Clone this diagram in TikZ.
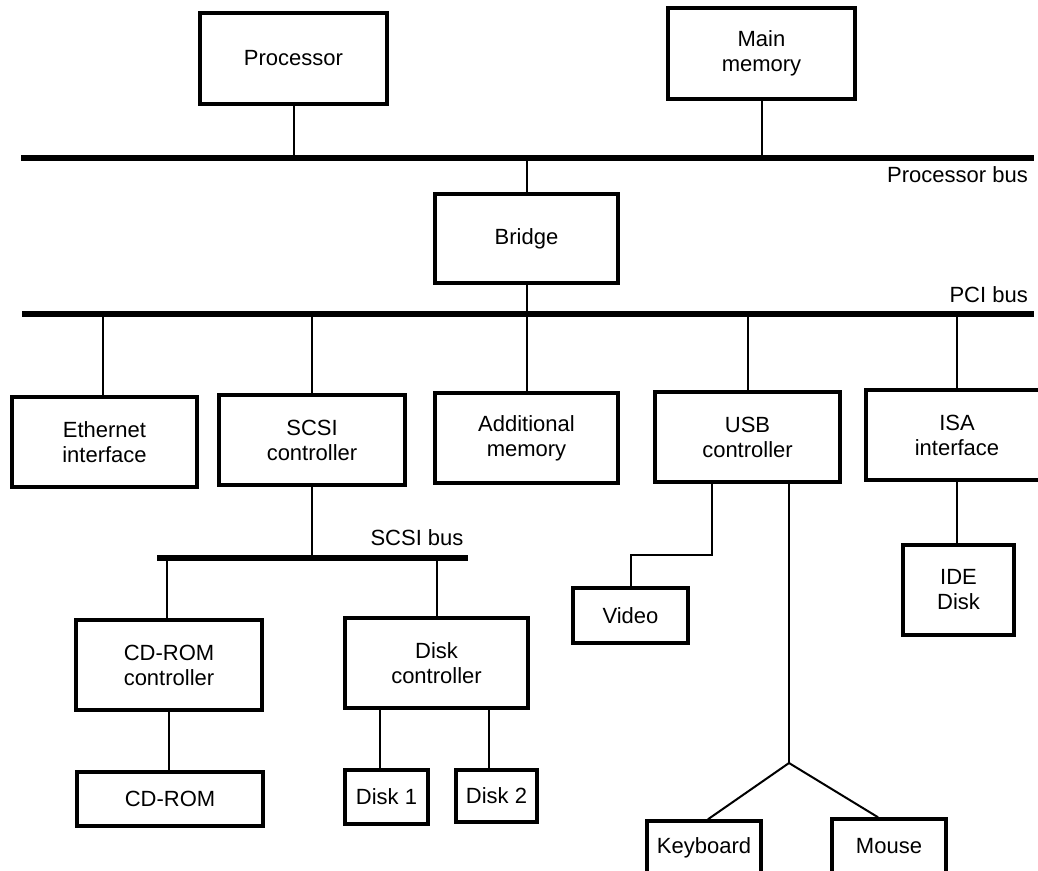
\documentclass[tikz,border=0pt]{standalone}
\usepackage{fontspec}
\setmainfont{Liberation Sans}
\usetikzlibrary{calc}
\tikzset{
  box/.style={draw, line width=3.5pt, inner sep=0pt, align=center,
    font=\fontsize{22}{25}\selectfont},
  conn/.style={line width=2pt},
  bus/.style={line width=6pt},
  buslabel/.style={font=\fontsize{22}{25}\selectfont, inner sep=0pt}
}
\begin{document}
\begin{tikzpicture}[x=1pt,y=-1pt]
\useasboundingbox (0,0) rectangle (1038,870);
\clip (0,0) rectangle (1038,870);
% boxes
\node[box, minimum width=187, minimum height=91] (proc) at (293.5,58.5) {Processor};
\node[box, minimum width=187, minimum height=91] (mem) at (761.5,53.5) {Main\\memory};
\node[box, minimum width=183, minimum height=89] (bridge) at (526.5,238.5) {Bridge};
\node[box, minimum width=185, minimum height=90] (eth) at (104.5,442) {Ethernet\\interface};
\node[box, minimum width=186, minimum height=90] (scsi) at (312,440) {SCSI\\controller};
\node[box, minimum width=183, minimum height=90] (addmem) at (526.5,438) {Additional\\memory};
\node[box, minimum width=185, minimum height=90] (usb) at (747.5,437) {USB\\controller};
\node[box, minimum width=182, minimum height=90] (isa) at (957,435) {ISA\\interface};
\node[box, minimum width=186, minimum height=90] (cdc) at (169,665) {CD-ROM\\controller};
\node[box, minimum width=183, minimum height=90] (dc) at (436.5,663) {Disk\\controller};
\node[box, minimum width=186, minimum height=54] (cdrom) at (170,799) {CD-ROM};
\node[box, minimum width=83, minimum height=54] (d1) at (386.5,797) {Disk 1};
\node[box, minimum width=81, minimum height=52] (d2) at (496.5,796) {Disk 2};
\node[box, minimum width=115, minimum height=55] (video) at (630.5,615.5) {Video};
\node[box, minimum width=111, minimum height=90] (ide) at (958.5,590) {IDE\\Disk};
\node[box, minimum width=114, minimum height=54] (kb) at (704,848) {Keyboard};
\node[box, minimum width=114, minimum height=54] (mouse) at (889,846) {Mouse};
% buses
\coordinate (pbL) at (21,158);
\coordinate (pbR) at (1034,158);
\coordinate (pciL) at (22,314);
\coordinate (pciR) at (1034,314);
\coordinate (sbL) at (157,558);
\coordinate (sbR) at (468,558);
\draw[bus] (pbL) -- (pbR);
\draw[bus] (pciL) -- (pciR);
\draw[bus] (sbL) -- (sbR);
\node[buslabel, anchor=east] (pblab) at (1028,175) {Processor bus};
\node[buslabel, anchor=east] (pcilab) at (1028,295) {PCI bus};
\node[buslabel] (sblab) at (417,538) {SCSI bus};
% connector attachment points
\coordinate (ethN) at ($(eth.north)+(-1.5,0)$);
\coordinate (cdcN) at ($(cdc.north)+(-2,0)$);
\coordinate (d1N) at ($(d1.north)+(-6.5,0)$);
\coordinate (d2N) at ($(d2.north)+(-7.5,0)$);
\coordinate (usbV) at ($(usb.south)+(-35.5,0)$);
\coordinate (usbK) at ($(usb.south)+(41.5,0)$);
\coordinate (kbN) at ($(kb.north)+(4,0)$);
\coordinate (msN) at ($(mouse.north)+(-11,0)$);
\coordinate (fork) at (789,763);
% connectors
\draw[conn] (proc.south) -- (proc.south |- pbL);
\draw[conn] (mem.south) -- (mem.south |- pbL);
\draw[conn] (bridge.north) -- (bridge.north |- pbL);
\draw[conn] (bridge.south) -- (bridge.south |- pciL);
\draw[conn] (ethN) -- (ethN |- pciL);
\draw[conn] (scsi.north) -- (scsi.north |- pciL);
\draw[conn] (addmem.north) -- (addmem.north |- pciL);
\draw[conn] (usb.north) -- (usb.north |- pciL);
\draw[conn] (isa.north) -- (isa.north |- pciL);
\draw[conn] (scsi.south) -- (scsi.south |- sbL);
\draw[conn] (cdcN |- sbL) -- (cdcN);
\draw[conn] (dc.north |- sbL) -- (dc.north);
\draw[conn] (cdc.south) -- (cdc.south |- cdrom.north);
\draw[conn] (d1N |- dc.south) -- (d1N);
\draw[conn] (d2N |- dc.south) -- (d2N);
\draw[conn] (isa.south) -- (isa.south |- ide.north);
\draw[conn] (usbV) -- ++(0,71) -| (video.north);
\draw[conn] (usbK) -- (fork);
\draw[conn] (fork) -- (kbN);
\draw[conn] (fork) -- (msN);
\end{tikzpicture}
\end{document}
